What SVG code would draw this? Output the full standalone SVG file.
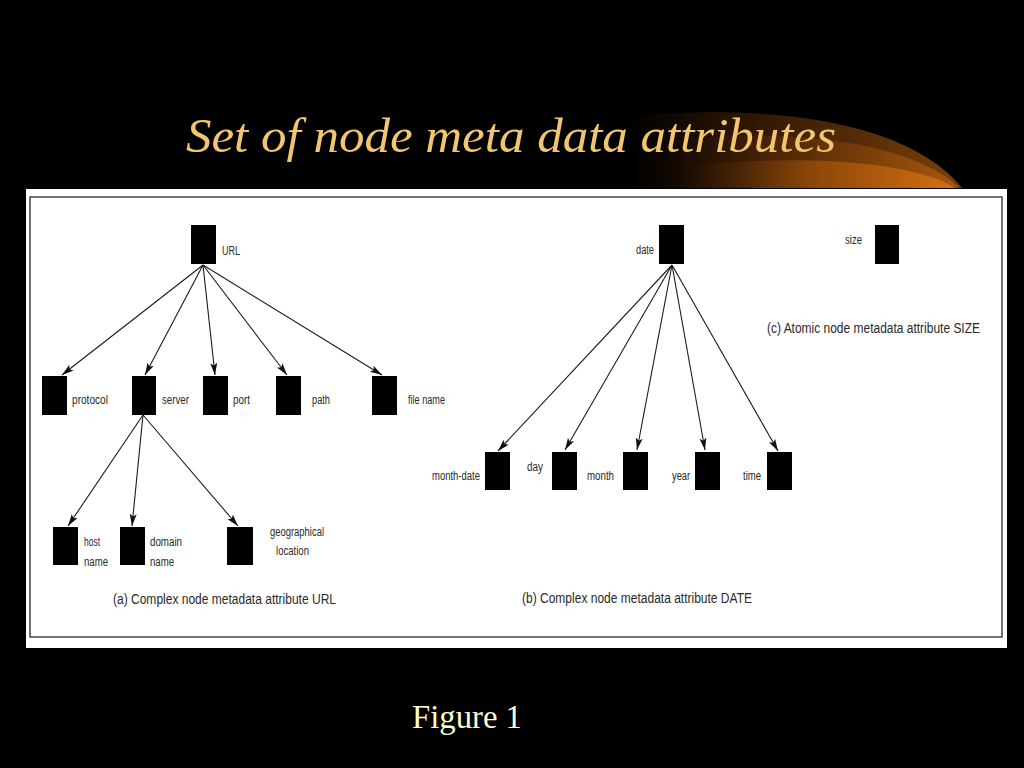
<svg xmlns="http://www.w3.org/2000/svg" width="1024" height="768" viewBox="0 0 1024 768">
<defs>
<linearGradient id="g1" x1="630" y1="0" x2="960" y2="0" gradientUnits="userSpaceOnUse">
<stop offset="0" stop-color="#000"/>
<stop offset="0.45" stop-color="#3a1c04"/>
<stop offset="1" stop-color="#7a400c"/>
</linearGradient>
<linearGradient id="g2" x1="640" y1="0" x2="960" y2="0" gradientUnits="userSpaceOnUse">
<stop offset="0" stop-color="#000"/>
<stop offset="0.5" stop-color="#5a2c06"/>
<stop offset="1" stop-color="#a8580e"/>
</linearGradient>
<linearGradient id="g3" x1="660" y1="0" x2="960" y2="0" gradientUnits="userSpaceOnUse">
<stop offset="0" stop-color="#000"/>
<stop offset="0.5" stop-color="#8a4608"/>
<stop offset="1" stop-color="#d87012"/>
</linearGradient>
<marker id="arr" markerUnits="userSpaceOnUse" markerWidth="13" markerHeight="9" refX="12" refY="4.5" orient="auto">
<path d="M0,1 L12,4.5 L0,8 L2.5,4.5 Z" fill="#111"/>
</marker>
<style>
.n{fill:#000}
.t{font-family:"Liberation Sans",Arial,sans-serif;font-size:12px;fill:#2a2a2a}
.c{font-family:"Liberation Sans",Arial,sans-serif;font-size:14px;fill:#2a2a2a}
.e{stroke:#1a1a1a;stroke-width:1.1;fill:none;marker-end:url(#arr)}
</style>
</defs>
<rect width="1024" height="768" fill="#000"/>
<g id="swoosh">
<path d="M630 116 C760 104 905 118 962 188 L630 188 Z" fill="url(#g1)"/>
<path d="M660 140 C800 126 915 145 958 187 L660 188 Z" fill="url(#g2)"/>
<path d="M690 166 C820 152 920 165 955 188 L690 188 Z" fill="url(#g3)"/>
</g>
<text x="186" y="152" font-family="'Liberation Serif','Times New Roman',serif" font-style="italic" font-size="48" fill="#F2C670" textLength="650" lengthAdjust="spacingAndGlyphs">Set of node meta data attributes</text>
<rect x="26" y="189" width="981" height="459" fill="#fff"/>
<rect x="30" y="197" width="972" height="440" fill="none" stroke="#444" stroke-width="1.5"/>
<g id="connectors">
<line class="e" x1="203" y1="265" x2="62" y2="375"/>
<line class="e" x1="203" y1="265" x2="145" y2="375"/>
<line class="e" x1="203" y1="265" x2="215" y2="375"/>
<line class="e" x1="203" y1="265" x2="287" y2="375"/>
<line class="e" x1="203" y1="265" x2="382" y2="375"/>
<line class="e" x1="143" y1="415" x2="68" y2="526"/>
<line class="e" x1="143" y1="415" x2="132" y2="526"/>
<line class="e" x1="143" y1="415" x2="238" y2="526"/>
<line class="e" x1="672" y1="265" x2="498" y2="451"/>
<line class="e" x1="672" y1="265" x2="565" y2="450"/>
<line class="e" x1="672" y1="265" x2="637" y2="450"/>
<line class="e" x1="672" y1="265" x2="705" y2="450"/>
<line class="e" x1="672" y1="265" x2="778" y2="451"/>
</g>
<g id="url"><rect class="n" x="191" y="225" width="25" height="39"/><text class="t" x="222" y="255" textLength="18" lengthAdjust="spacingAndGlyphs">URL</text></g>
<g id="protocol"><rect class="n" x="42" y="376" width="25" height="39"/><text class="t" x="72" y="404" textLength="36" lengthAdjust="spacingAndGlyphs">protocol</text></g>
<g id="server"><rect class="n" x="132" y="376" width="24" height="39"/><text class="t" x="162" y="404" textLength="27" lengthAdjust="spacingAndGlyphs">server</text></g>
<g id="port"><rect class="n" x="203" y="376" width="25" height="39"/><text class="t" x="233" y="404" textLength="17" lengthAdjust="spacingAndGlyphs">port</text></g>
<g id="path"><rect class="n" x="276" y="376" width="25" height="39"/><text class="t" x="312" y="404" textLength="18" lengthAdjust="spacingAndGlyphs">path</text></g>
<g id="filename"><rect class="n" x="372" y="376" width="25" height="39"/><text class="t" x="408" y="404" textLength="37" lengthAdjust="spacingAndGlyphs">file name</text></g>
<g id="hostname"><rect class="n" x="53" y="527" width="25" height="38"/><text class="t" x="84" y="546" textLength="16" lengthAdjust="spacingAndGlyphs">host</text><text class="t" x="84" y="566" textLength="24" lengthAdjust="spacingAndGlyphs">name</text></g>
<g id="domainname"><rect class="n" x="120" y="527" width="25" height="38"/><text class="t" x="150" y="546" textLength="32" lengthAdjust="spacingAndGlyphs">domain</text><text class="t" x="150" y="566" textLength="24" lengthAdjust="spacingAndGlyphs">name</text></g>
<g id="geolocation"><rect class="n" x="227" y="527" width="26" height="38"/><text class="t" x="270" y="536" textLength="54" lengthAdjust="spacingAndGlyphs">geographical</text><text class="t" x="276" y="555" textLength="33" lengthAdjust="spacingAndGlyphs">location</text></g>
<g id="date"><rect class="n" x="659" y="225" width="25" height="39"/><text class="t" x="636" y="254" textLength="18" lengthAdjust="spacingAndGlyphs">date</text></g>
<g id="monthdate"><rect class="n" x="485" y="452" width="25" height="38"/><text class="t" x="432" y="480" textLength="48" lengthAdjust="spacingAndGlyphs">month-date</text></g>
<g id="day"><rect class="n" x="552" y="452" width="25" height="38"/><text class="t" x="527" y="471" textLength="16" lengthAdjust="spacingAndGlyphs">day</text></g>
<g id="month"><rect class="n" x="623" y="452" width="25" height="38"/><text class="t" x="587" y="480" textLength="27" lengthAdjust="spacingAndGlyphs">month</text></g>
<g id="year"><rect class="n" x="695" y="452" width="25" height="38"/><text class="t" x="672" y="480" textLength="18" lengthAdjust="spacingAndGlyphs">year</text></g>
<g id="time"><rect class="n" x="767" y="452" width="25" height="38"/><text class="t" x="743" y="480" textLength="18" lengthAdjust="spacingAndGlyphs">time</text></g>
<g id="size"><rect class="n" x="875" y="225" width="24" height="39"/><text class="t" x="845" y="244" textLength="17" lengthAdjust="spacingAndGlyphs">size</text></g>
<text class="c" x="113" y="604" textLength="223" lengthAdjust="spacingAndGlyphs">(a) Complex node metadata attribute URL</text>
<text class="c" x="522" y="603" textLength="230" lengthAdjust="spacingAndGlyphs">(b) Complex node metadata attribute DATE</text>
<text class="c" x="767" y="333" font-size="13" textLength="213" lengthAdjust="spacingAndGlyphs">(c) Atomic node metadata attribute SIZE</text>
<text x="412" y="728" font-family="'Liberation Serif','Times New Roman',serif" font-size="33" fill="#FFFFCC" textLength="110" lengthAdjust="spacingAndGlyphs">Figure 1</text>
</svg>
